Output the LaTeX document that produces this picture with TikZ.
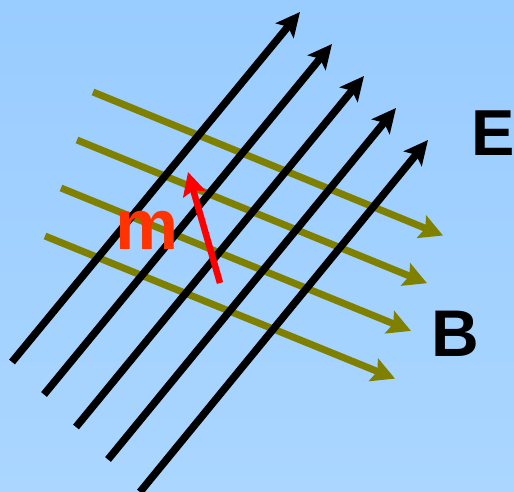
\documentclass[tikz,border=0pt]{standalone}
\usepackage{fontspec}
\setmainfont{Liberation Sans}
\usetikzlibrary{arrows.meta}
\definecolor{bgtop}{HTML}{99CCFF}
\definecolor{bgbot}{HTML}{AAD6FF}
\definecolor{olive}{HTML}{808000}
\definecolor{mred}{HTML}{FF3300}
\tikzset{
  efield/.style={line width=7.5pt, black, -{Stealth[length=24pt,width=23pt,inset=5pt]}},
  bfield/.style={line width=7pt, olive, -{Stealth[length=23pt,width=24pt,inset=4pt]}},
  moment/.style={line width=6.5pt, red, -{Stealth[length=23pt,width=23pt,inset=4pt]}},
  lbl/.style={font=\bfseries, inner sep=0pt, anchor=base}
}
\begin{document}
\begin{tikzpicture}[x=1pt,y=-1pt]
\useasboundingbox (0,0) rectangle (514,492);
\shade[top color=bgtop, bottom color=bgbot] (0,0) rectangle (514,492);
% E field lines
\foreach \i in {0,...,4}{
  \coordinate (es\i) at ({12+32*\i},{362+32.5*\i});
  \coordinate (ee\i) at ({300+32*\i},{12+32*\i});
}
% B field lines
\foreach \i in {0,...,3}{
  \coordinate (bs\i) at ({93-16*\i},{92+48*\i});
  \coordinate (be\i) at ({443-16*\i},{235.5+47.7*\i});
}
\foreach \i in {0,...,3}{ \draw[bfield] (bs\i) -- (be\i); }
\foreach \i in {0,...,4}{ \draw[efield] (es\i) -- (ee\i); }
\coordinate (ms) at (220,283);
\coordinate (me) at (188,172);
\draw[moment] (ms) -- (me);
\node[lbl, text=mred, font=\fontsize{71}{71}\selectfont\bfseries] (m) at (147,249) {m};
\node[lbl, font=\fontsize{65}{65}\selectfont\bfseries] (E) at (493,156) {E};
\node[lbl, font=\fontsize{66}{66}\selectfont\bfseries] (B) at (455,356) {B};
\end{tikzpicture}
\end{document}
